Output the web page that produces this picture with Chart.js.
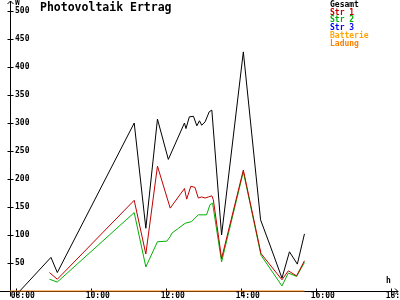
<!DOCTYPE html>
<html>
<head>
<meta charset="utf-8">
<title>Photovoltaik Ertrag</title>
<script src="https://cdn.jsdelivr.net/npm/chart.js@4/dist/chart.umd.min.js"></script>
<style>
  html, body { margin: 0; padding: 0; background: #fff; }
  canvas { display: block; }
</style>
</head>
<body>
<canvas id="pvChart" width="400" height="300"></canvas>
<script>
// Values (time in hours, power in W)
const gesamtTime = [8.11, 8.94, 9.11, 11.16, 11.47, 11.78, 12.07, 12.50, 12.54, 12.63, 12.74, 12.83, 12.90, 12.96, 13.05, 13.16, 13.23, 13.49, 14.07, 14.53, 14.78, 15.10, 15.30, 15.51, 15.70];
const gesamtW    = [0, 60, 33, 300, 112, 307, 235, 300, 290, 311, 312, 295, 304, 296, 302, 320, 323, 100, 427, 127, 82, 23, 70, 48, 102];

const str1Time = [8.90, 9.11, 11.16, 11.47, 11.78, 12.12, 12.50, 12.56, 12.67, 12.78, 12.87, 12.96, 13.05, 13.14, 13.23, 13.27, 13.49, 14.07, 14.54, 15.10, 15.27, 15.49, 15.70];
const str1W    = [33, 21, 162, 66, 223, 148, 183, 164, 187, 185, 166, 168, 166, 168, 170, 163, 58, 216, 67, 20, 36, 27, 54];

const str2Time = [8.90, 9.11, 11.16, 11.47, 11.78, 12.03, 12.12, 12.16, 12.34, 12.52, 12.69, 12.87, 13.09, 13.18, 13.25, 13.49, 14.07, 14.54, 15.10, 15.27, 15.49, 15.70];
const str2W    = [21, 16, 140, 43, 88, 89, 97, 103, 112, 121, 124, 136, 136, 154, 157, 52, 213, 64, 9, 32, 26, 51];

const str3Time = [];
const str3W    = [];
const batterieTime = [];
const batterieW    = [];
const ladungTime = [7.85, 15.70];
const ladungW    = [0, 0];

const yTicks = [50, 100, 150, 200, 250, 300, 350, 400, 450, 500];
const xTicks = [8, 10, 12, 14, 16, 18];
const xTickLabels = ['08:00', '10:00', '12:00', '14:00', '16:00', '18:00'];

const FONT = '"DejaVu Sans Mono", monospace';

function toPoints(times, values) {
    return times.map((t, i) => ({ x: t, y: values[i] }));
}

function makeSet(label, color, times, values) {
    return {
        label: label,
        data: toPoints(times, values),
        borderColor: color,
        backgroundColor: color,
        borderWidth: 1,
        pointRadius: 0,
        tension: 0,
        clip: false
    };
}

// Axes with arrows, tick marks and labels drawn from the chart scales
const axisPlugin = {
    id: 'pvAxes',
    beforeDatasetsDraw(chart) {
        const ctx = chart.ctx;
        const xs = chart.scales.x;
        const ys = chart.scales.y;
        const x0 = Math.round(xs.getPixelForValue(xs.min)) + 0.5;
        const y0 = Math.round(ys.getPixelForValue(0)) + 0.5;
        ctx.save();
        ctx.strokeStyle = '#000';
        ctx.lineWidth = 1;
        ctx.beginPath();
        // y axis + arrow
        ctx.moveTo(x0, y0 + 5);
        ctx.lineTo(x0, 1);
        ctx.moveTo(x0 - 3, 4);
        ctx.lineTo(x0, 1);
        ctx.lineTo(x0 + 3, 4);
        // x axis + arrow
        ctx.moveTo(0, y0);
        ctx.lineTo(398, y0);
        ctx.moveTo(395, y0 - 3);
        ctx.lineTo(398, y0);
        ctx.lineTo(395, y0 + 3);
        yTicks.forEach(v => {
            const py = Math.round(ys.getPixelForValue(v)) + 0.5;
            ctx.moveTo(x0 - 3, py);
            ctx.lineTo(x0 + 3, py);
        });
        xTicks.forEach(h => {
            const px = Math.round(xs.getPixelForValue(h)) + 0.5;
            ctx.moveTo(px, y0 - 3);
            ctx.lineTo(px, y0 + 4);
        });
        ctx.stroke();
        ctx.restore();
    },
    afterDraw(chart) {
        const ctx = chart.ctx;
        const xs = chart.scales.x;
        const ys = chart.scales.y;
        const x0 = xs.getPixelForValue(xs.min);
        const y0 = ys.getPixelForValue(0);
        ctx.save();
        ctx.fillStyle = '#000';
        ctx.font = 'bold 8px ' + FONT;
        ctx.textBaseline = 'middle';
        ctx.textAlign = 'left';
        yTicks.forEach(v => {
            ctx.fillText(String(v), x0 + 5, ys.getPixelForValue(v));
        });
        xTicks.forEach((h, i) => {
            ctx.fillText(xTickLabels[i], xs.getPixelForValue(h) - 5, y0 + 5);
        });
        ctx.fillText('W', x0 + 5, 3);
        ctx.fillText('h', 386, y0 - 10);

        // title
        ctx.font = 'bold 11.5px ' + FONT;
        ctx.fillText('Photovoltaik Ertrag', 40, 8);

        // legend in series colours
        ctx.font = 'bold 8px ' + FONT;
        chart.data.datasets.forEach((ds, i) => {
            ctx.fillStyle = ds.borderColor;
            ctx.fillText(ds.label, 330, 5 + i * 7.7);
        });
        ctx.restore();
    }
};

new Chart(document.getElementById('pvChart'), {
    type: 'line',
    data: {
        datasets: [
            makeSet('Gesamt', '#000000', gesamtTime, gesamtW),
            makeSet('Str 1', '#c00000', str1Time, str1W),
            makeSet('Str 2', '#00b000', str2Time, str2W),
            makeSet('Str 3', '#0000ff', str3Time, str3W),
            makeSet('Batterie', '#ffa500', batterieTime, batterieW),
            makeSet('Ladung', '#ff8000', ladungTime, ladungW)
        ]
    },
    options: {
        responsive: false,
        animation: false,
        layout: {
            padding: { left: 10, top: 11, right: 4, bottom: 9 }
        },
        plugins: {
            legend: { display: false },
            title: { display: false },
            tooltip: { enabled: false }
        },
        scales: {
            x: { type: 'linear', display: false, min: 7.848, max: 18.141 },
            y: { type: 'linear', display: false, min: 0, max: 500 }
        }
    },
    plugins: [axisPlugin]
});
</script>
</body>
</html>
